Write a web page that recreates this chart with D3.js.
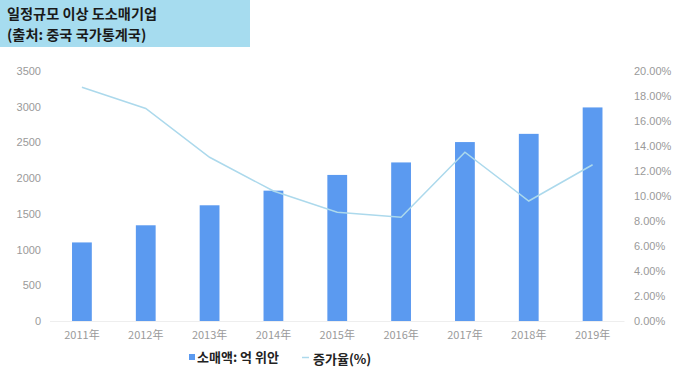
<!DOCTYPE html>
<html><head><meta charset="utf-8">
<script src="https://cdn.jsdelivr.net/npm/d3@7"></script>
<style>
html,body{margin:0;padding:0;background:#fff;}
text{font-family:"Noto Sans CJK KR","Noto Sans",sans-serif;}
</style></head>
<body>
<svg id="chart" width="680" height="373"></svg>
<script>
const years = ["2011年","2012年","2013年","2014年","2015年","2016年","2017年","2018年","2019年"];
const sales = [1100, 1340, 1620, 1825, 2045, 2220, 2505, 2620, 2990];
const growth = [18.7, 17.0, 13.1, 10.4, 8.7, 8.3, 13.5, 9.6, 12.5];
const leftTicks = [0,500,1000,1500,2000,2500,3000,3500];
const rightTicks = [0,2,4,6,8,10,12,14,16,18,20];
const titleLines = ["일정규모 이상 도소매기업","(출처: 중국 국가통계국)"];
const legendLabels = ["소매액: 억 위안","증가율(%)"];

const svg = d3.select("#chart");
const plotTop = 71, plotBottom = 321, plotLeft = 50, plotRight = 624.5;

const x = d3.scaleBand().domain(years).range([plotLeft, plotRight]).paddingInner(0.69).paddingOuter(0.345);
const yL = d3.scaleLinear().domain([0,3500]).range([plotBottom, plotTop]);
const yR = d3.scaleLinear().domain([0,20]).range([plotBottom, plotTop]);

// title box
svg.append("rect").attr("x",0).attr("y",0).attr("width",250).attr("height",47).attr("fill","#a6dcef");
svg.selectAll("text.title").data(titleLines).enter().append("text")
  .attr("x",7).attr("y",(d,i)=>19+i*21).attr("font-size",14.2).attr("font-weight","bold").attr("fill","#1a1a1a").text(d=>d);

// baseline
svg.append("line").attr("x1",plotLeft).attr("x2",plotRight).attr("y1",plotBottom+0.5).attr("y2",plotBottom+0.5).attr("stroke","#eeeeee");

// left axis
const axL = d3.axisLeft(yL).tickValues(leftTicks).tickSize(0).tickPadding(0).tickFormat(d=>String(d));
const gL = svg.append("g").attr("transform",`translate(41,0)`).call(axL);
gL.select(".domain").remove();
gL.selectAll("text").attr("font-size",11).attr("fill","#9a9a9a").style("font-family","'Liberation Sans',Arial,sans-serif");

// right axis
const axR = d3.axisRight(yR).tickValues(rightTicks).tickSize(0).tickPadding(0).tickFormat(d=>d.toFixed(2)+"%");
const gR = svg.append("g").attr("transform",`translate(634,0)`).call(axR);
gR.select(".domain").remove();
gR.selectAll("text").attr("font-size",11).attr("fill","#9a9a9a").style("font-family","'Liberation Sans',Arial,sans-serif");

// x axis
const axX = d3.axisBottom(x).tickSize(0).tickPadding(0);
const gX = svg.append("g").attr("transform",`translate(0,${plotBottom+14})`).call(axX);
gX.select(".domain").remove();
gX.selectAll("text").attr("font-size",11).attr("fill","#9a9a9a").attr("dy","0.35em");

// bars
svg.selectAll("rect.bar").data(sales).enter().append("rect").attr("class","bar")
  .attr("x",(d,i)=>x(years[i])).attr("width",x.bandwidth())
  .attr("y",d=>yL(d)).attr("height",d=>yL(0)-yL(d)).attr("fill","#5b9af0");

// line
const line = d3.line().x((d,i)=>x(years[i])+x.bandwidth()/2).y(d=>yR(d));
svg.append("path").datum(growth).attr("d",line).attr("fill","none").attr("stroke","#acd9ec").attr("stroke-width",1.5);

// legend
const lg = svg.append("g");
lg.append("rect").attr("x",189).attr("y",354).attr("width",6).attr("height",6).attr("fill","#5b9af0");
lg.append("text").attr("x",197).attr("y",362).attr("font-size",13).attr("font-weight","bold").attr("fill","#222").text(legendLabels[0]);
lg.append("line").attr("x1",302).attr("x2",309).attr("y1",357.5).attr("y2",357.5).attr("stroke","#acd9ec").attr("stroke-width",1.5);
lg.append("text").attr("x",313).attr("y",364).attr("font-size",13).attr("font-weight","bold").attr("fill","#222").text(legendLabels[1]);
</script>
</body></html>
